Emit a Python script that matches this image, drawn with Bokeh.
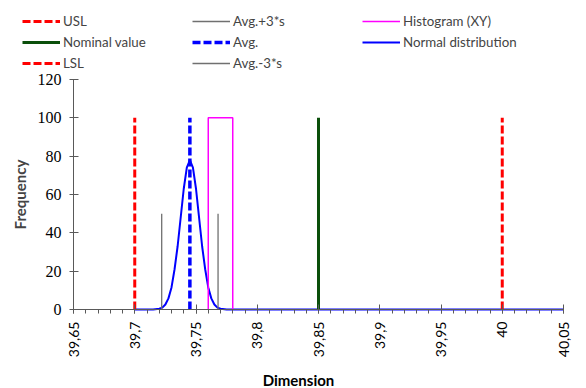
from bokeh.plotting import figure
from bokeh.models import Range1d, FixedTicker, CustomJSTickFormatter, Legend, LegendItem, Label
from bokeh.embed import file_html
from bokeh.resources import INLINE

# ---- data ----
x_ticks = [39.65, 39.70, 39.75, 39.80, 39.85, 39.90, 39.95, 40.00, 40.05]
x_minor = [round(39.65 + 0.01 * i, 2) for i in range(41)]
y_ticks = [0, 20, 40, 60, 80, 100, 120]
x_axis_span = (39.65, 40.05)
y_axis_span = (0, 120)

usl = 40.00
lsl = 39.70
nominal = 39.85
avg = 39.745
avg_plus_3s = 39.768
avg_minus_3s = 39.722
spec_height = [0, 100]
sigma_height = [0, 50]

hist_x = [39.76, 39.76, 39.78, 39.78]
hist_y = [0, 100, 100, 0]

normal_x = [39.700, 39.715, 39.720, 39.7225, 39.725, 39.7275, 39.730, 39.7325, 39.735,
            39.7375, 39.740, 39.7425, 39.745, 39.7475, 39.750, 39.7525, 39.755, 39.7575,
            39.760, 39.7625, 39.765, 39.7675, 39.770, 39.775, 40.050]
normal_y = [0, 0, 0.4, 1.0, 2.6, 5.8, 11.5, 21, 33,
            48, 63, 74, 78, 74, 63, 48, 33, 21,
            11.5, 5.8, 2.6, 1.0, 0.4, 0, 0]

legend_labels = ["USL", "Nominal value", "LSL", "Avg.+3*s", "Avg.", "Avg.-3*s",
                 "Histogram (XY)", "Normal distribution"]

# ---- layout (pixels) ----
W, H = 586, 388
axis_left_px, axis_right_px = 73, 563      # where 39.65 and 40.05 sit
axis_top_px, axis_bottom_px = 79, 309      # where 120 and 0 sit
ux = (x_axis_span[1] - x_axis_span[0]) / (axis_right_px - axis_left_px)
uy = (y_axis_span[1] - y_axis_span[0]) / (axis_bottom_px - axis_top_px)
x_start = x_axis_span[0] - axis_left_px * ux
x_end = x_axis_span[1] + (W - axis_right_px) * ux
y_end = y_axis_span[1] + axis_top_px * uy
y_start = y_axis_span[0] - (H - axis_bottom_px) * uy

p = figure(width=W, height=H, output_backend="svg", toolbar_location=None, title=None,
           x_range=Range1d(x_start, x_end), y_range=Range1d(y_start, y_end),
           min_border=0)
p.outline_line_color = None
p.grid.visible = False

axis_col = "#595959"
for ax in (p.xaxis[0], p.yaxis[0]):
    ax.axis_line_color = axis_col
    ax.major_tick_line_color = axis_col
    ax.minor_tick_line_color = axis_col
    ax.major_tick_in = 5
    ax.major_tick_out = 4
    ax.minor_tick_in = 0
    ax.minor_tick_out = 4
    ax.major_label_text_color = "black"

p.xaxis.bounds = x_axis_span
p.xaxis.fixed_location = y_axis_span[0]
p.xaxis.ticker = FixedTicker(ticks=x_ticks, minor_ticks=x_minor)
p.xaxis.formatter = CustomJSTickFormatter(code="""
    const s = (Math.round(tick * 100) / 100).toString();
    return s.replace('.', ',');
""")
p.xaxis.major_label_orientation = 1.5708
p.xaxis.major_label_text_font = "Lato"
p.xaxis.major_label_text_font_size = "14px"
p.xaxis.major_label_standoff = 8

p.yaxis.bounds = y_axis_span
p.yaxis.fixed_location = x_axis_span[0]
p.yaxis.ticker = FixedTicker(ticks=y_ticks)
p.yaxis.minor_tick_line_color = None
p.yaxis.major_label_text_font = "Liberation Serif"
p.yaxis.major_label_text_font_size = "16px"
p.yaxis.major_label_standoff = 8
p.yaxis.axis_label = "Frequency"
p.yaxis.axis_label_text_font = "Lato"
p.yaxis.axis_label_text_font_style = "bold"
p.yaxis.axis_label_text_font_size = "15px"
p.yaxis.axis_label_standoff = 6

# x-axis title, placed where the reference shows it
p.add_layout(Label(x=x_start + 298 * ux, y=y_end - 379 * uy, text="Dimension",
                   text_align="center", text_baseline="middle", text_font="Lato",
                   text_font_style="bold", text_font_size="15px", text_color="black"))

# ---- glyphs ----
r_norm = p.line(normal_x, normal_y, line_color="#0000ff", line_width=2)
r_hist = p.line(hist_x, hist_y, line_color="#ff00ff", line_width=1.5)
r_p3s = p.line([avg_plus_3s] * 2, sigma_height, line_color="#707070", line_width=1.3)
r_m3s = p.line([avg_minus_3s] * 2, sigma_height, line_color="#707070", line_width=1.3)
r_nom = p.line([nominal] * 2, spec_height, line_color="#0b4f0b", line_width=3)
r_usl = p.line([usl] * 2, spec_height, line_color="#ff0000", line_width=3, line_dash="8 3")
r_lsl = p.line([lsl] * 2, spec_height, line_color="#ff0000", line_width=3, line_dash="8 3")
r_avg = p.line([avg] * 2, spec_height, line_color="#0000ff", line_width=3.5, line_dash="8 3")

renderers = [r_usl, r_nom, r_lsl, r_p3s, r_avg, r_m3s, r_hist, r_norm]
items = [LegendItem(label=l, renderers=[r]) for l, r in zip(legend_labels, renderers)]
legend = Legend(items=items, location=(22, H - 72), orientation="vertical", nrows=3,
                glyph_width=38, glyph_height=18, label_height=18, label_width=126,
                label_standoff=3, spacing=3, padding=0, margin=0,
                label_text_font="Lato", label_text_font_size="13.3px",
                background_fill_alpha=0, border_line_color=None)
p.add_layout(legend, "center")

open("out.html", "w").write(file_html(p, INLINE))
